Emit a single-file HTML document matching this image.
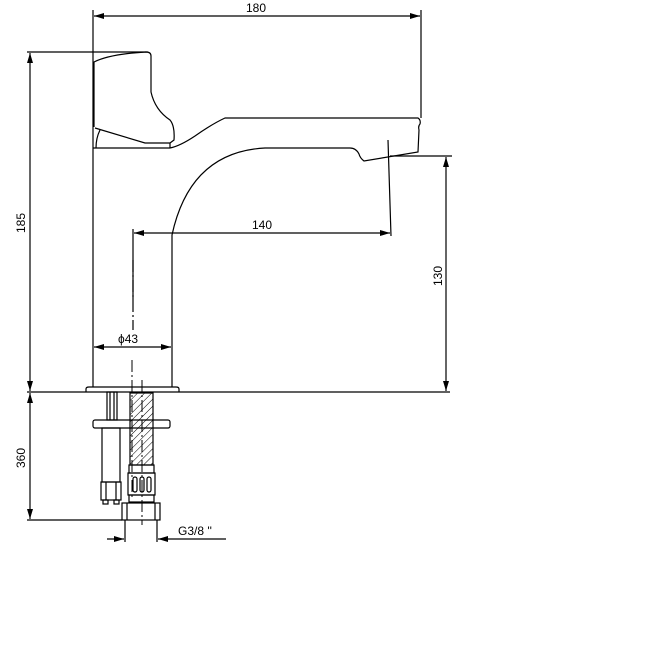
<!DOCTYPE html>
<html><head><meta charset="utf-8"><style>
html,body{margin:0;padding:0;background:#fff;}
svg{display:block;}
text{font-family:"Liberation Sans",sans-serif;font-size:12px;fill:#000;}
</style></head><body>
<svg width="664" height="652" viewBox="0 0 664 652" xmlns="http://www.w3.org/2000/svg">
<defs>
<marker id="a" viewBox="0 0 10 6" refX="10" refY="3" markerWidth="10" markerHeight="6" orient="auto-start-reverse" markerUnits="userSpaceOnUse"><path d="M0,0 L10,3 L0,6 Z" fill="#000"/></marker>
<pattern id="h" width="5" height="5" patternUnits="userSpaceOnUse" patternTransform="rotate(45)"><line x1="0" y1="0" x2="0" y2="5" stroke="#000" stroke-width="1"/></pattern>
</defs>
<g fill="none" stroke="#000" stroke-width="1.2">
<line x1="93" y1="10" x2="93" y2="148"/>
<line x1="421" y1="10" x2="421" y2="118"/>
<line x1="94" y1="16" x2="420" y2="16" marker-start="url(#a)" marker-end="url(#a)"/>
<line x1="27" y1="52" x2="148" y2="52"/>
<line x1="30" y1="53" x2="30" y2="391" marker-start="url(#a)" marker-end="url(#a)"/>
<path d="M94,127 L94,62 Q110,54 146,52 Q151,52 151,56 L151,92 Q155,110 170,120 Q175,126 174,140 L170,143 L145,143 L95,128"/>
<path d="M100,130 Q96,138 96,148"/>
<line x1="93" y1="148" x2="170" y2="148"/>
<line x1="170" y1="143" x2="170" y2="148"/>
<path d="M170,148 Q180,146 195,136 Q212,124 225,118 L418,118 Q421,120 420,124 Q418,126 419,130 L418,152 L364,161 Q360,158 359,154 Q356,148 350,148 L265,148 Q190,152 172,235 L172,387"/>
<line x1="93" y1="148" x2="93" y2="387"/>
<path d="M86,392 L86,389 Q86,387 89,387 L176,387 Q179,387 179,389 L179,392"/>
<line x1="27" y1="392" x2="450" y2="392"/>
<line x1="388" y1="140" x2="391" y2="236"/>
<line x1="390" y1="156" x2="452" y2="156"/>
<line x1="446" y1="157" x2="446" y2="391" marker-start="url(#a)" marker-end="url(#a)"/>
<line x1="133" y1="229" x2="133" y2="300"/>
<line x1="134" y1="233" x2="390" y2="233" marker-start="url(#a)" marker-end="url(#a)"/>
<line x1="133" y1="260" x2="133" y2="330" stroke-dasharray="12,3,2,3"/>
<line x1="94" y1="347" x2="171" y2="347" marker-start="url(#a)" marker-end="url(#a)"/>
<line x1="132" y1="360" x2="132" y2="500" stroke-dasharray="12,3,2,3" stroke-width="1"/>
<rect x="107" y="392" width="10" height="28"/>
<line x1="110" y1="392" x2="110" y2="420"/><line x1="114" y1="392" x2="114" y2="420"/>
<rect x="93" y="420" width="77" height="8" rx="2"/>
<rect x="102" y="428" width="18" height="54"/>
<rect x="101" y="482" width="20" height="18"/>
<line x1="106" y1="482" x2="106" y2="500"/><line x1="116" y1="482" x2="116" y2="500"/>
<rect x="103" y="500" width="5" height="4"/><rect x="114" y="500" width="5" height="4"/>
<rect x="130" y="393" width="23" height="72" fill="url(#h)"/>
<rect x="129" y="465" width="25" height="8"/>
<rect x="128" y="473" width="27" height="22"/>
<rect x="133" y="477" width="4" height="15" rx="2"/><rect x="140" y="477" width="4" height="15" rx="2"/><rect x="147" y="477" width="4" height="15" rx="2"/>
<rect x="129" y="495" width="25" height="7"/>
<rect x="122" y="503" width="38" height="17"/>
<line x1="127" y1="503" x2="127" y2="520"/><line x1="155" y1="503" x2="155" y2="520"/>
<line x1="142" y1="380" x2="142" y2="525" stroke-dasharray="12,3,2,3" stroke-width="1"/>
<line x1="27" y1="520" x2="122" y2="520"/>
<line x1="30" y1="393" x2="30" y2="519" marker-start="url(#a)" marker-end="url(#a)"/>
<line x1="125" y1="520" x2="125" y2="542"/>
<line x1="157" y1="520" x2="157" y2="542"/>
<line x1="107" y1="539" x2="124" y2="539" marker-end="url(#a)"/>
<line x1="226" y1="539" x2="158" y2="539" marker-end="url(#a)"/>
</g>
<text x="246" y="12">180</text>
<text x="252" y="229">140</text>
<text x="118" y="343">ϕ43</text>
<text x="178" y="535">G3/8 ''</text>
<text transform="translate(25,233) rotate(-90)">185</text>
<text transform="translate(25,468) rotate(-90)">360</text>
<text transform="translate(442,286) rotate(-90)">130</text>
</svg>
</body></html>
